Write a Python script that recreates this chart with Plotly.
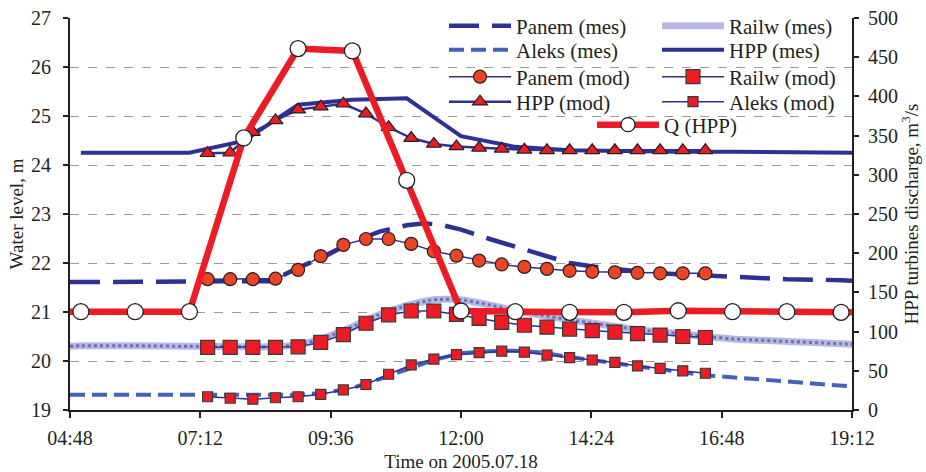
import plotly.graph_objects as go

DAY = "2005-07-18 "

# ---------------- data ----------------
panem_mes_t = ["04:48", "05:00", "06:00", "07:00", "08:00", "08:30", "09:00", "09:30", "10:00",
               "10:30", "11:00", "11:20", "11:40", "12:00", "12:30", "13:00", "13:30", "14:00",
               "14:30", "15:00", "15:30", "16:00", "16:30", "17:00", "18:00", "19:00", "19:12"]
panem_mes_v = [21.61, 21.61, 21.61, 21.61, 21.61, 21.63, 21.90, 22.14, 22.43,
               22.64, 22.77, 22.81, 22.77, 22.68, 22.50, 22.33, 22.17, 22.00,
               21.92, 21.85, 21.80, 21.77, 21.74, 21.71, 21.67, 21.65, 21.64]

railw_mes_t = ["04:48", "05:00", "06:00", "07:00", "08:00", "08:30", "09:00", "09:30", "10:00",
               "10:30", "11:00", "11:30", "12:00", "12:30", "13:00", "13:30", "14:00", "14:30",
               "15:00", "15:30", "16:00", "16:30", "17:00", "18:00", "19:00", "19:12"]
railw_mes_v = [20.30, 20.31, 20.31, 20.30, 20.29, 20.29, 20.33, 20.48, 20.70,
               20.95, 21.13, 21.25, 21.25, 21.15, 21.03, 20.93, 20.84, 20.76,
               20.68, 20.61, 20.56, 20.50, 20.45, 20.40, 20.35, 20.34]

aleks_mes_t = ["04:48", "05:00", "06:00", "07:00", "08:00", "09:00", "09:30", "10:00", "10:30",
               "11:00", "11:30", "12:00", "12:30", "13:00", "13:30", "14:00", "14:30", "15:00",
               "15:30", "16:00", "16:30", "17:00", "18:00", "19:00", "19:12"]
aleks_mes_v = [19.31, 19.31, 19.31, 19.31, 19.31, 19.31, 19.35, 19.45, 19.63,
               19.83, 20.02, 20.16, 20.20, 20.21, 20.17, 20.08, 20.00, 19.92,
               19.85, 19.78, 19.71, 19.67, 19.57, 19.49, 19.48]

hpp_mes_t = ["05:00", "06:00", "07:00", "08:00", "09:00", "10:00", "11:00", "12:00", "13:00",
             "14:00", "15:00", "16:00", "17:00", "18:00", "19:00", "19:12"]
hpp_mes_v = [24.25, 24.25, 24.25, 24.49, 25.23, 25.33, 25.36, 24.59, 24.37,
             24.30, 24.28, 24.27, 24.27, 24.26, 24.25, 24.25]

mod_t = ["07:20", "07:45", "08:10", "08:35", "09:00", "09:25", "09:50", "10:15", "10:40",
         "11:05", "11:30", "11:55", "12:20", "12:45", "13:10", "13:35", "14:00", "14:25",
         "14:50", "15:15", "15:40", "16:05", "16:30"]
panem_mod_v = [21.67, 21.67, 21.67, 21.68, 21.86, 22.14, 22.37, 22.49, 22.49, 22.39, 22.24, 22.15,
               22.05, 21.97, 21.92, 21.88, 21.84, 21.82, 21.81, 21.80, 21.79, 21.79, 21.79]
railw_mod_v = [20.28, 20.28, 20.28, 20.28, 20.29, 20.38, 20.54, 20.77, 20.94, 21.02, 21.02, 20.95,
               20.87, 20.79, 20.73, 20.69, 20.65, 20.62, 20.59, 20.56, 20.53, 20.50, 20.48]
hpp_mod_v = [24.24, 24.25, 24.67, 24.91, 25.13, 25.19, 25.25, 25.05, 24.77, 24.55, 24.43, 24.38,
             24.35, 24.33, 24.31, 24.30, 24.30, 24.30, 24.30, 24.30, 24.30, 24.30, 24.30]
aleks_mod_v = [19.27, 19.24, 19.22, 19.25, 19.27, 19.32, 19.41, 19.52, 19.73, 19.92, 20.04, 20.13,
               20.17, 20.20, 20.18, 20.12, 20.07, 20.02, 19.97, 19.90, 19.85, 19.80, 19.75]

q_t = ["04:48", "05:00", "06:00", "07:00", "08:00", "09:00", "10:00", "11:00", "12:00",
       "13:00", "14:00", "15:00", "16:00", "17:00", "18:00", "19:00", "19:12"]
q_v = [125.4, 125.4, 125.4, 125.4, 347, 461, 458, 293, 126.3,
       125.4, 124.6, 124.6, 126.6, 125.4, 125.4, 124.6, 124.6]

x_ticks = ["04:48", "07:12", "09:36", "12:00", "14:24", "16:48", "19:12"]

# ---------------- styling ----------------
FONT = "Liberation Serif, Times New Roman, serif"
NAVY = "#2E3192"
ALEKS = "#4462B9"
RED = "#ED1C24"
TXT = "#231F20"


def ts(lst):
    return [DAY + t for t in lst]


fig = go.Figure()

fig.add_trace(go.Scatter(x=ts(panem_mes_t), y=panem_mes_v, mode="lines", name="Panem (mes)",
                         line=dict(color=NAVY, width=4.5, dash="30px,13px"), legend="legend"))
fig.add_trace(go.Scatter(x=ts(railw_mes_t), y=railw_mes_v, mode="lines", name="Railw (mes)",
                         line=dict(color="#B8B8E2", width=7, shape="spline", smoothing=0.6),
                         legend="legend2"))
fig.add_trace(go.Scatter(x=ts(railw_mes_t), y=railw_mes_v, mode="lines", name="Railw (mes)",
                         line=dict(color="#6E6EBA", width=3, dash="3px,3px", shape="spline",
                                   smoothing=0.6),
                         showlegend=False, hoverinfo="skip"))
fig.add_trace(go.Scatter(x=ts(aleks_mes_t), y=aleks_mes_v, mode="lines", name="Aleks (mes)",
                         line=dict(color=ALEKS, width=4, dash="15px,7px"), legend="legend3"))
fig.add_trace(go.Scatter(x=ts(hpp_mes_t), y=hpp_mes_v, mode="lines", name="HPP (mes)",
                         line=dict(color=NAVY, width=4), legend="legend4"))

fig.add_trace(go.Scatter(x=ts(mod_t), y=panem_mod_v, mode="lines+markers", name="Panem (mod)",
                         line=dict(color=NAVY, width=1.5),
                         marker=dict(symbol="circle", size=13, color="#EF4423", opacity=1,
                                     line=dict(color="#231F20", width=1.2)),
                         legend="legend5"))
fig.add_trace(go.Scatter(x=ts(mod_t), y=railw_mod_v, mode="lines+markers", name="Railw (mod)",
                         line=dict(color=NAVY, width=1.5),
                         marker=dict(symbol="square", size=14, color=RED, opacity=1,
                                     line=dict(color="#3A3A3A", width=1.2)),
                         legend="legend6"))
fig.add_trace(go.Scatter(x=ts(mod_t), y=hpp_mod_v, mode="lines+markers", name="HPP (mod)",
                         line=dict(color=NAVY, width=2.5),
                         marker=dict(symbol="triangle-up", size=13, color=RED, opacity=1,
                                     line=dict(color="#231F20", width=1.2)),
                         legend="legend7"))
fig.add_trace(go.Scatter(x=ts(mod_t), y=aleks_mod_v, mode="lines+markers", name="Aleks (mod)",
                         line=dict(color=NAVY, width=1.5),
                         marker=dict(symbol="square", size=10, color=RED, opacity=1,
                                     line=dict(color="#3A3A3A", width=1.2)),
                         legend="legend8"))

q_sizes = [0] + [16] * (len(q_v) - 2) + [0]
fig.add_trace(go.Scatter(x=ts(q_t), y=q_v, mode="lines+markers", name="Q (HPP)", yaxis="y2",
                         line=dict(color=RED, width=6.5),
                         marker=dict(symbol="circle", size=q_sizes, color="white", opacity=1,
                                     line=dict(color="#231F20", width=1.3)),
                         legend="legend9"))

# ---------------- legends ----------------
L, R, T, B = 70, 852, 18, 410
PW, PH = R - L, B - T


def px_x(p):
    return (p - L) / PW


def px_y(p):
    return (B - p) / PH


def leg(xp, yp):
    return dict(x=px_x(xp), y=px_y(yp), xanchor="left", yanchor="middle",
                bgcolor="rgba(0,0,0,0)", borderwidth=0, itemwidth=62,
                font=dict(family=FONT, size=21, color=TXT))


c1, c2, c3 = 444, 657, 592
r1, r2, r3, r4, r5 = 26, 50, 77, 102, 125

shape_layer = "between"
try:
    go.layout.Shape(layer="between")
except ValueError:
    shape_layer = "below"

TICKF = dict(family=FONT, size=20, color=TXT)
TITLEF = dict(family=FONT, size=19, color=TXT)

fig.update_layout(
    width=926, height=472,
    margin=dict(l=L, r=926 - R, t=T, b=472 - B, autoexpand=False),
    paper_bgcolor="white", plot_bgcolor="white",
    font=dict(family=FONT, size=19, color=TXT),
    xaxis=dict(
        type="date",
        range=[DAY + "04:48", DAY + "19:12"],
        tickmode="array", tickvals=ts(x_ticks), ticktext=x_ticks,
        showgrid=False, zeroline=False,
        showline=True, linecolor="#231F20", linewidth=2,
        ticks="outside", ticklen=6, tickcolor="#231F20", tickwidth=1.5,
        ticklabelstandoff=3,
        tickfont=TICKF,
        title=dict(text="Time on 2005.07.18", font=TITLEF, standoff=8),
    ),
    yaxis=dict(
        range=[19, 27], dtick=1, tick0=19,
        showgrid=True, gridcolor="#9A9A9A", gridwidth=1, griddash="dash",
        zeroline=False,
        showline=True, linecolor="#231F20", linewidth=2,
        ticks="outside", ticklen=5, tickcolor="#231F20", tickwidth=1.5,
        ticklabelstandoff=8,
        tickfont=TICKF,
        title=dict(text="Water level, m", font=TITLEF, standoff=2),
    ),
    yaxis2=dict(
        overlaying="y", side="right",
        range=[0, 500], dtick=50, tick0=0,
        showgrid=False, zeroline=False,
        showline=True, linecolor="#231F20", linewidth=2,
        ticks="outside", ticklen=5, tickcolor="#231F20", tickwidth=1.5,
        ticklabelstandoff=5,
        tickfont=TICKF,
        title=dict(text="HPP turbines discharge, m<sup>3</sup>/s", font=TITLEF, standoff=8),
    ),
    legend=leg(c1, r1),
    legend2=leg(c2, r1),
    legend3=leg(c1, r2),
    legend4=leg(c2, r2),
    legend5=leg(c1, r3),
    legend6=leg(c2, r3),
    legend7=leg(c1, r4),
    legend8=leg(c2, r4),
    legend9=leg(c3, r5),
    shapes=[dict(type="rect", xref="paper", yref="paper",
                 x0=px_x(437), x1=1, y0=px_y(133), y1=1,
                 fillcolor="white", line=dict(width=0), layer=shape_layer)],
)

fig.write_html("out.html")
